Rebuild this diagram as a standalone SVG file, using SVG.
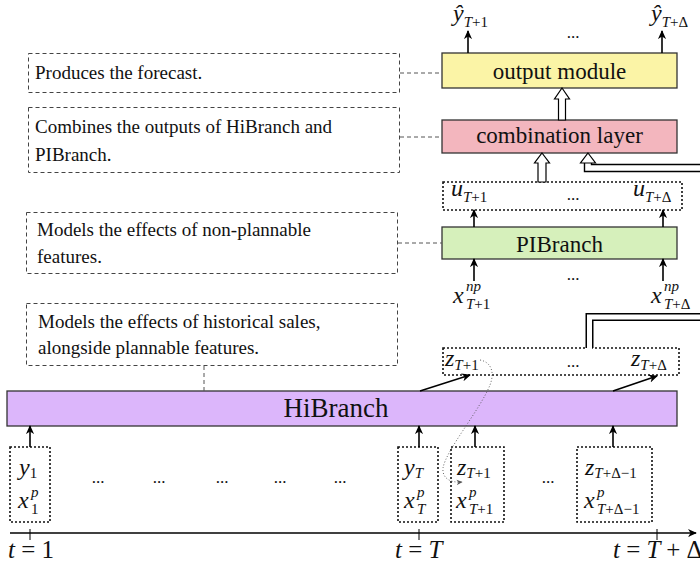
<svg xmlns="http://www.w3.org/2000/svg" width="700" height="565" viewBox="0 0 700 565">
<defs>
<marker id="ah" viewBox="0 0 10 10" refX="9" refY="5" markerWidth="9" markerHeight="9" markerUnits="userSpaceOnUse" orient="auto">
<path d="M0,0.5 L10,5 L0,9.5 L3,5 Z" fill="#000"/>
</marker>
<marker id="ahs" viewBox="0 0 10 10" refX="9" refY="5" markerWidth="6" markerHeight="6" markerUnits="userSpaceOnUse" orient="auto">
<path d="M0,0.5 L10,5 L0,9.5 L3,5 Z" fill="#555"/>
</marker>
</defs>
<style>
.box{stroke:#333;stroke-width:1.3}
.lbl{font-family:"Liberation Serif","Times New Roman",serif;font-size:23px;fill:#111;text-anchor:middle}
.ann{font-family:"Liberation Serif","Times New Roman",serif;font-size:19px;fill:#111}
.annbox{fill:none;stroke:#444;stroke-width:1;stroke-dasharray:4,3}
.annln{fill:none;stroke:#555;stroke-width:1;stroke-dasharray:4,3}
.dot{fill:none;stroke:#111;stroke-width:1.6;stroke-dasharray:2,2}
.m{font-family:"Liberation Serif","Times New Roman",serif;font-size:24px;font-style:italic;fill:#111}
.s{font-size:15px}
.u{font-style:normal}
.dd{font-family:"Liberation Serif","Times New Roman",serif;font-size:17px;fill:#111;text-anchor:middle}
.arr{stroke:#000;stroke-width:1.6;fill:none;marker-end:url(#ah)}
.hol{fill:#fff;stroke:#000;stroke-width:1.2}
</style>

<g id="annotations">
<g id="ann-output">
<rect class="annbox" x="28.5" y="53.5" width="371" height="39"/>
<text class="ann" x="35" y="79">Produces the forecast.</text>
</g>
<g id="ann-combination">
<rect class="annbox" x="28.5" y="107.5" width="371" height="65"/>
<text class="ann" x="35" y="133">Combines the outputs of HiBranch and</text>
<text class="ann" x="35" y="161">PIBranch.</text>
</g>
<g id="ann-pibranch">
<rect class="annbox" x="26.5" y="212.5" width="371" height="61"/>
<text class="ann" x="37" y="236">Models the effects of non-plannable</text>
<text class="ann" x="37" y="263">features.</text>
</g>
<g id="ann-hibranch">
<rect class="annbox" x="26.5" y="303.5" width="371" height="62"/>
<text class="ann" x="38" y="328">Models the effects of historical sales,</text>
<text class="ann" x="38" y="354">alongside plannable features.</text>
</g>
</g>

<g id="output-module">
<rect class="box" x="442" y="53" width="235" height="35" fill="#fbf4a6"/>
<text class="lbl" x="559.5" y="79">output module</text>
</g>
<g id="combination-layer">
<rect class="box" x="442" y="120" width="235" height="33" fill="#f3b6be"/>
<text class="lbl" x="559.5" y="143">combination layer</text>
</g>
<g id="u-box">
<rect class="dot" x="443" y="182" width="239" height="28"/>
<text class="m" x="451" y="196">u<tspan class="s" dy="6">T</tspan><tspan class="s u">+1</tspan></text>
<text class="dd" x="573" y="200">...</text>
<text class="m" x="633" y="196">u<tspan class="s" dy="6">T</tspan><tspan class="s u">+Δ</tspan></text>
</g>
<g id="pibranch">
<rect class="box" x="442" y="227" width="235" height="32" fill="#d6f0bb"/>
<text class="lbl" x="559.5" y="252">PIBranch</text>
</g>
<g id="z-box">
<rect class="dot" x="443" y="348" width="236" height="27"/>
<text class="m" x="445" y="366">z<tspan class="s" dy="4">T</tspan><tspan class="s u">+1</tspan></text>
<text class="dd" x="573" y="367">...</text>
<text class="m" x="631" y="366">z<tspan class="s" dy="4">T</tspan><tspan class="s u">+Δ</tspan></text>
</g>
<g id="hibranch">
<rect class="box" x="7" y="391" width="670" height="35" fill="#dcb6fb"/>
<text class="lbl" x="336" y="417" style="font-size:27px">HiBranch</text>
</g>

<g id="outputs">
<text class="m" x="453" y="21">ŷ<tspan class="s" dy="6">T</tspan><tspan class="s u">+1</tspan></text>
<text class="dd" x="573" y="38">...</text>
<text class="m" x="651" y="21">ŷ<tspan class="s" dy="6">T</tspan><tspan class="s u">+Δ</tspan></text>
</g>
<g id="np-inputs">
<text class="m" x="453" y="303">x</text>
<text class="m s" x="466" y="291">np</text>
<text class="m s" x="466" y="309">T<tspan class="u">+1</tspan></text>
<text class="dd" x="573" y="280">...</text>
<text class="m" x="651" y="303">x</text>
<text class="m s" x="664" y="291">np</text>
<text class="m s" x="664" y="309">T<tspan class="u">+Δ</tspan></text>
</g>

<g id="input-1">
<rect class="dot" x="10" y="447" width="40" height="75"/>
<text class="m" x="19" y="475">y<tspan class="s u" dy="3">1</tspan></text>
<text class="m" x="18" y="508">x</text>
<text class="m s" x="31" y="497">p</text>
<text class="m s u" x="31" y="514">1</text>
</g>
<g id="input-T">
<rect class="dot" x="398" y="447" width="40" height="75"/>
<text class="m" x="404" y="475">y<tspan class="s" dy="3">T</tspan></text>
<text class="m" x="404" y="508">x</text>
<text class="m s" x="417" y="497">p</text>
<text class="m s" x="417" y="514">T</text>
</g>
<g id="input-T1">
<rect class="dot" x="451" y="447" width="53" height="75"/>
<text class="m" x="457" y="475">z<tspan class="s" dy="3">T</tspan><tspan class="s u">+1</tspan></text>
<text class="m" x="456" y="508">x</text>
<text class="m s" x="469" y="497">p</text>
<text class="m s" x="469" y="514">T<tspan class="u">+1</tspan></text>
</g>
<g id="input-TD">
<rect class="dot" x="577" y="447" width="75" height="75"/>
<text class="m" x="585" y="475">z<tspan class="s" dy="3">T</tspan><tspan class="s u">+Δ−1</tspan></text>
<text class="m" x="584" y="508">x</text>
<text class="m s" x="597" y="497">p</text>
<text class="m s" x="597" y="514">T<tspan class="u">+Δ−1</tspan></text>
</g>
<g id="ellipses">
<text class="dd" x="98" y="483">...</text>
<text class="dd" x="159" y="483">...</text>
<text class="dd" x="222" y="483">...</text>
<text class="dd" x="280" y="483">...</text>
<text class="dd" x="340" y="483">...</text>
<text class="dd" x="548" y="483">...</text>
</g>

<g id="timeline">
<line x1="10" y1="533" x2="696" y2="533" stroke="#000" stroke-width="1.6" marker-end="url(#ah)"/>
<line x1="30" y1="529" x2="30" y2="540" stroke="#000" stroke-width="1"/>
<line x1="419" y1="529" x2="419" y2="540" stroke="#000" stroke-width="1"/>
<line x1="657" y1="529" x2="657" y2="540" stroke="#000" stroke-width="1"/>
<text class="m" x="8" y="558" style="font-size:25px">t <tspan class="u">= 1</tspan></text>
<text class="m" x="395" y="558" style="font-size:25px">t <tspan class="u">=</tspan> T</text>
<text class="m" x="613" y="558" style="font-size:25px">t <tspan class="u">=</tspan> T <tspan class="u">+ Δ</tspan></text>
</g>

<g id="connectors">
<line class="annln" x1="400" y1="73" x2="442" y2="73"/>
<line class="annln" x1="400" y1="137" x2="442" y2="137"/>
<line class="annln" x1="398" y1="243" x2="442" y2="243"/>
<line class="annln" x1="204" y1="366" x2="204" y2="391"/>

<line class="arr" x1="468" y1="53" x2="468" y2="31"/>
<line class="arr" x1="662" y1="53" x2="662" y2="31"/>
<line class="arr" x1="474" y1="227" x2="474" y2="210"/>
<line class="arr" x1="663" y1="227" x2="663" y2="210"/>
<line class="arr" x1="474" y1="281" x2="474" y2="259"/>
<line class="arr" x1="663" y1="281" x2="663" y2="259"/>
<line class="arr" x1="420" y1="391" x2="470" y2="375"/>
<line class="arr" x1="613" y1="391" x2="657" y2="376"/>
<line class="arr" x1="30" y1="447" x2="30" y2="426"/>
<line class="arr" x1="419" y1="447" x2="419" y2="426"/>
<line class="arr" x1="475" y1="447" x2="475" y2="426"/>
<line class="arr" x1="613" y1="447" x2="613" y2="426"/>

<path d="M480,360 C491,362 495,372 490,385 C480,410 446,450 443,468 C442,478 450,483 462,482" fill="none" stroke="#555" stroke-width="0.9" stroke-dasharray="1,2" marker-end="url(#ahs)"/>

<path class="hol" d="M562,88 L569.5,99 L565.5,99 L565.5,120 L558.5,120 L558.5,99 L554.5,99 Z"/>
<path class="hol" d="M542,153 L549.5,163 L546,163 L546,182 L538,182 L538,163 L534.5,163 Z"/>
<path d="M588,162 L588,168 L701,168" fill="none" stroke="#000" stroke-width="8.4" stroke-linejoin="miter"/>
<path d="M588,160 L588,168 L702,168" fill="none" stroke="#fff" stroke-width="5.6" stroke-linejoin="miter"/>
<path class="hol" d="M588,153 L595.5,163 L592,163 L584,163 L580.5,163 Z"/>
<path d="M589.5,348 L589.5,317 L701,317" fill="none" stroke="#000" stroke-width="8" stroke-linejoin="miter"/>
<path d="M589.5,349 L589.5,317 L702,317" fill="none" stroke="#fff" stroke-width="5" stroke-linejoin="miter"/>
</g>
</svg>
